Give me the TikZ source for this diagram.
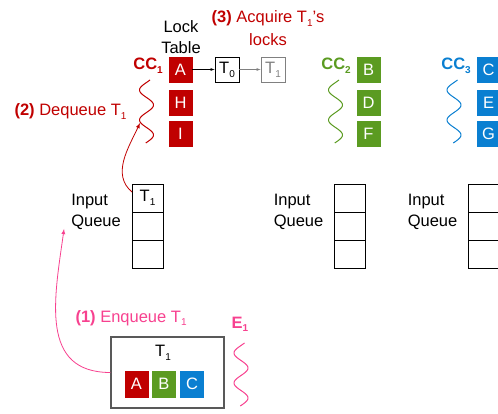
\documentclass[tikz,border=0pt]{standalone}
\usepackage{fontspec}
\setmainfont{Liberation Sans}
\usetikzlibrary{arrows,positioning}
\definecolor{ccred}{HTML}{C00000}
\definecolor{ccgreen}{HTML}{5B9B21}
\definecolor{ccblue}{HTML}{0A7FD1}
\definecolor{ecpink}{HTML}{F7418F}
\newcommand\lowsub[1]{\raisebox{-0.45ex}{\fontsize{10}{10}\selectfont #1}}

\begin{document}
\begin{tikzpicture}[x=1pt,y=-1pt,>=latex,
	every node/.style={font=\fontsize{16.5}{21}\selectfont},
	lockbox/.style={fill=#1,draw=#1,text=white,minimum width=23pt,minimum height=25pt,inner sep=0pt},
	qcell/.style={draw,line width=0.8pt,minimum width=31pt,minimum height=28pt,inner sep=0pt,outer sep=0pt},
	tbox/.style={draw=#1,text=#1,line width=0.8pt,minimum width=24pt,minimum height=25pt,inner sep=0pt},
	wave/.style={line width=1pt}]
	\useasboundingbox (0,0) rectangle (498,414);

	% lock tables of the three CCs
	\foreach \k/\y in {A/69.5,H/102.5,I/134}
		\node[lockbox=ccred] (cc1\k) at (180.5,\y) {\k};
	\foreach \k/\y in {B/69.5,D/102.5,F/134}
		\node[lockbox=ccgreen] (cc2\k) at (368.5,\y) {\k};
	\foreach \k/\y in {C/69.5,E/102.5,G/134}
		\node[lockbox=ccblue] (cc3\k) at (488.5,\y) {\k};

	\node[align=center] (LT) at (181,37) {Lock\\Table};
	\node[ccred,anchor=base east,inner sep=0pt] (CC1) at (163,70) {\textbf{CC\lowsub{1}}};
	\node[ccgreen,anchor=base east,inner sep=0pt] (CC2) at (351,70) {\textbf{CC\lowsub{2}}};
	\node[ccblue,anchor=base east,inner sep=0pt] (CC3) at (471,70) {\textbf{CC\lowsub{3}}};

	\node[tbox=black] (T0) at (227,69.5) {T\lowsub{0}};
	\node[tbox=gray] (T1) at (273,69.5) {T\lowsub{1}};
	\draw[->] (cc1A) -- (T0);
	\draw[->,gray] (T0) -- (T1);
	\node[ccred,align=center,font=\fontsize{16.5}{23}\selectfont] (acq) at (268,28) {\textbf{(3)} Acquire T\lowsub{1}'s\\locks};

	% threads
	\foreach \cx/\cy/\col in {146.5/80/ccred,335.5/80/ccgreen,454/80/ccblue,241/343/ecpink}
		\draw[\col,wave] plot[domain=0:63,samples=60,smooth] ({\cx-7*sin(12*(\x-2.5))},{\cy+\x});
	\coordinate (deq) at (140,123);

	% input queues
	\foreach \q/\x in {1/147.5,2/350,3/484} {
		\node[qcell] (Q\q-1) at (\x,198) {};
		\node[qcell,below=0pt of Q\q-1] (Q\q-2) {};
		\node[qcell,below=0pt of Q\q-2] (Q\q-3) {};
		\node[anchor=east,align=left,inner sep=1pt] (IQ\q) at ([xshift=-10pt]Q\q-2.north west) {Input\\Queue};
	}
	\node at (Q1-1) {T\lowsub{1}};

	% the transaction
	\node[draw=gray!70!black,line width=1.2pt,minimum width=113pt,minimum height=71pt] (E1box) at (167.5,372.5) {};
	\node (E1T) at (163,353) {T\lowsub{1}};
	\node[lockbox=ccred,minimum height=26pt] (E1A) at (136.5,384) {A};
	\node[lockbox=ccgreen,minimum height=26pt] (E1B) at (164,384) {B};
	\node[lockbox=ccblue,minimum height=26pt] (E1C) at (192,384) {C};
	\node[ecpink,anchor=base] (E1) at (240,328) {\textbf{E\lowsub{1}}};

	\node[ecpink,anchor=base west] (enq) at (72,322) {\textbf{(1)} Enqueue T\lowsub{1}};
	\node[ccred,anchor=base west] (dq) at (11,116) {\textbf{(2)} Dequeue T\lowsub{1}};

	\draw[->,ecpink,line width=0.8pt] (E1box.west) to[out=180,in=262,looseness=1.2] ([xshift=-6pt,yshift=2pt]IQ1.south west);
	\draw[->,ccred,line width=0.8pt] ([yshift=6pt]Q1-1.west) to[out=140,in=245] (deq);
\end{tikzpicture}
\end{document}
